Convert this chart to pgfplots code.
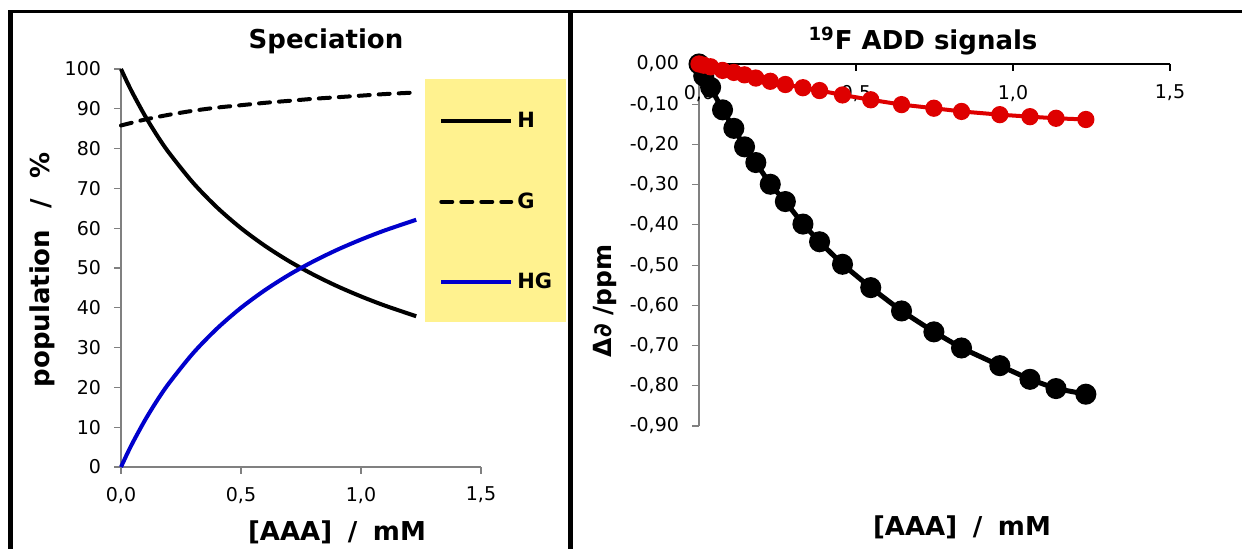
\documentclass[border=0pt]{standalone}
\usepackage{fontspec}
\setmainfont{DejaVu Sans}
\usepackage{pgfplots}
\pgfplotsset{compat=1.18}
\definecolor{legyellow}{RGB}{255,242,143}
\definecolor{myred}{RGB}{222,0,0}
\definecolor{myblue}{RGB}{0,0,204}
\definecolor{axgray}{RGB}{128,128,128}
\begin{document}
\begin{tikzpicture}
\path[use as bounding box] (0pt,0pt) rectangle (621pt,274.5pt);
\draw[line width=1.5pt] (4pt,268.5pt) -- (621pt,268.5pt);
\draw[line width=2.5pt] (5.25pt,0pt) -- (5.25pt,269.25pt);
\draw[line width=2.5pt] (285.25pt,0pt) -- (285.25pt,268.5pt);
\fill[legyellow] (212.5pt,113.5pt) rectangle (283pt,235pt);
% ---------- left panel ----------
\begin{axis}[
  at={(60.5pt,41pt)}, anchor=south west, scale only axis,
  width=180pt, height=199pt,
  xmin=0, xmax=1.5, ymin=0, ymax=100,
  axis lines=left, axis line style={-, draw=axgray, line width=0.6pt},
  tick style={axgray, line width=0.6pt}, major tick length=3.5pt, tick align=outside,
  xtick={0,0.5,1,1.5}, ytick={0,10,20,30,40,50,60,70,80,90,100},
  tick label style={font=\fontsize{9.5}{11}\selectfont, /pgf/number format/assume math mode=true},
  xticklabel style={/pgf/number format/fixed, /pgf/number format/fixed zerofill,
     /pgf/number format/precision=1, /pgf/number format/use comma, yshift=-3pt},
  yticklabel style={xshift=-3pt},
  clip=false,
  legend image code/.code={\draw[#1] (0pt,0pt) -- (35pt,0pt);},
  legend style={draw=none, fill=none, at={(0.883,0.666)}, anchor=west, inner sep=0pt,
     row sep=27pt, column sep=0pt, font=\bfseries\fontsize{10.5}{12}\selectfont},
  legend cell align=left,
]
\addplot[black, line width=2pt, smooth] coordinates {
(0,100) (0.025,96.77) (0.05,93.75) (0.1,88.24) (0.15,83.33) (0.2,78.95) (0.3,71.43)
(0.4,65.22) (0.5,60.0) (0.6,55.56) (0.7,51.72) (0.8,48.39) (0.9,45.45) (1.0,42.86)
(1.1,40.54) (1.23,37.88)};
\addlegendentry{H}
\addplot[black, line width=2pt, line cap=round, dash pattern=on 5.5pt off 4.5pt, smooth] coordinates {
(0,85.8) (0.1,87.3) (0.2,88.5) (0.3,89.5) (0.4,90.3) (0.5,90.9) (0.6,91.5) (0.7,92.0)
(0.8,92.5) (0.9,92.9) (1.0,93.3) (1.1,93.7) (1.23,94.1)};
\addlegendentry{G}
\addplot[myblue, line width=2pt, smooth] coordinates {
(0,0) (0.025,3.23) (0.05,6.25) (0.1,11.76) (0.15,16.67) (0.2,21.05) (0.3,28.57)
(0.4,34.78) (0.5,40.0) (0.6,44.44) (0.7,48.28) (0.8,51.61) (0.9,54.55) (1.0,57.14)
(1.1,59.46) (1.23,62.12)};
\addlegendentry{HG}
\end{axis}
\node[font=\bfseries\fontsize{13}{15}\selectfont] at (163pt,254pt) {Speciation};
\node[rotate=90, font=\bfseries\fontsize{13}{15}\selectfont] at (21pt,139.5pt) {population\hspace{0.8em}/\hspace{0.8em}\%};
\node[font=\bfseries\fontsize{13}{15}\selectfont] at (168.5pt,8.5pt) {[AAA]\hspace{0.6em}/\hspace{0.6em}mM};
% ---------- right panel ----------
\begin{axis}[
  at={(349.5pt,61.5pt)}, anchor=south west, scale only axis,
  width=235.5pt, height=181pt,
  xmin=0, xmax=1.5, ymin=-0.9, ymax=0,
  axis x line=top, axis y line=left,
  axis line style={-, line width=0.6pt},
  x axis line style={draw=black}, y axis line style={draw=axgray},
  major tick length=3.5pt, tick align=outside,
  xtick style={black, line width=0.6pt, yshift=-3.5pt},
  ytick style={axgray, line width=0.6pt},
  xtick={0,0.5,1,1.5},
  ytick={-0.9,-0.8,-0.7,-0.6,-0.5,-0.4,-0.3,-0.2,-0.1,0},
  tick label style={font=\fontsize{9.5}{11}\selectfont, /pgf/number format/assume math mode=true},
  xticklabel style={/pgf/number format/fixed, /pgf/number format/fixed zerofill,
     /pgf/number format/precision=1, /pgf/number format/use comma, anchor=north, yshift=-10.5pt},
  yticklabel style={/pgf/number format/fixed, /pgf/number format/fixed zerofill,
     /pgf/number format/precision=2, /pgf/number format/use comma, xshift=-3pt},
  clip=false,
]
\addplot[black, line width=2.5pt, mark=*, mark size=4pt] coordinates {
(0,0) (0.015,-0.030) (0.037,-0.058) (0.075,-0.114) (0.111,-0.160) (0.145,-0.206)
(0.181,-0.245) (0.227,-0.299) (0.275,-0.342) (0.331,-0.398) (0.384,-0.442)
(0.457,-0.498) (0.547,-0.556) (0.645,-0.614) (0.748,-0.666) (0.836,-0.706)
(0.958,-0.750) (1.054,-0.784) (1.137,-0.807) (1.232,-0.821)};
\addplot[myred, line width=2pt, mark=*, mark size=3.3pt, mark options={fill=myred}] coordinates {
(0,0) (0.015,-0.003) (0.037,-0.007) (0.075,-0.016) (0.111,-0.021) (0.145,-0.027)
(0.181,-0.035) (0.227,-0.043) (0.275,-0.051) (0.331,-0.059) (0.384,-0.066)
(0.457,-0.077) (0.547,-0.089) (0.645,-0.101) (0.748,-0.110) (0.836,-0.118)
(0.958,-0.126) (1.054,-0.131) (1.137,-0.135) (1.232,-0.138)};
\end{axis}
\node[font=\bfseries\fontsize{13}{15}\selectfont] at (461.5pt,254pt) {\textsuperscript{19}F ADD signals};
\node[rotate=90, font=\bfseries\fontsize{12.5}{14}\selectfont] at (302.5pt,124pt) {Δ∂ /ppm};
\node[font=\bfseries\fontsize{13}{15}\selectfont] at (481pt,11pt) {[AAA]\hspace{0.6em}/\hspace{0.6em}mM};
\end{tikzpicture}
\end{document}
